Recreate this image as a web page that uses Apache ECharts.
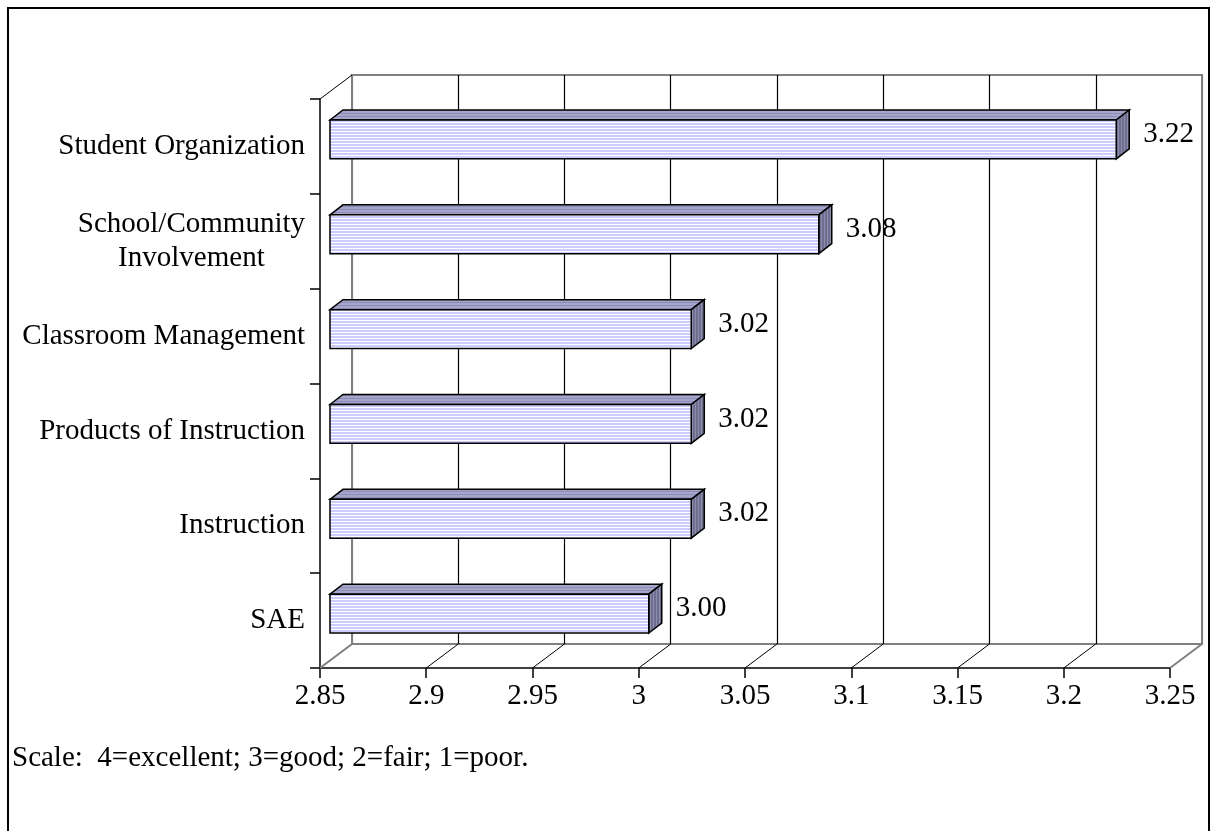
<!DOCTYPE html>
<html>
<head>
<meta charset="utf-8">
<script src="https://cdn.jsdelivr.net/npm/echarts@6/dist/echarts.min.js"></script>
<style>
html, body { margin: 0; padding: 0; background: #fff; }
#main { width: 1211px; height: 831px; }
</style>
</head>
<body>
<div id="main"></div>
<script>
// data, top to bottom as in the picture
var categories = ['Student Organization', 'School/Community\nInvolvement', 'Classroom Management',
	'Products of Instruction', 'Instruction', 'SAE'];
var scores = [3.22, 3.08, 3.02, 3.02, 3.02, 3.00];
var xTicks = [2.85, 2.9, 2.95, 3, 3.05, 3.1, 3.15, 3.2, 3.25];
var note = 'Scale:  4=excellent; 3=good; 2=fair; 1=poor.';

var FONT = 'Liberation Serif';
var FS = 29;
var xMin = xTicks[0];
var xMax = xTicks[xTicks.length - 1];
var xStep = 0.05;

// 3d look
var wallDx = 32, wallDy = -24;
var barShiftX = 10, barShiftY = -7;
var barDx = 13, barDy = -10;

function stripes(w, h, colA, colB, vertical) {
	var c = document.createElement('canvas');
	c.width = w; c.height = h;
	var ctx = c.getContext('2d');
	ctx.fillStyle = colA;
	ctx.fillRect(0, 0, w, h);
	ctx.fillStyle = colB;
	if (vertical) ctx.fillRect(w - 1, 0, 1, h);
	else ctx.fillRect(0, h - 1, w, 1);
	return { image: c, repeat: 'repeat' };
}
var frontFill = stripes(4, 3, '#ccccff', '#ffffff', false);
var topFill = stripes(4, 3, '#a6a6cc', '#8c8cb4', false);
var sideFill = stripes(3, 4, '#6e6e90', '#8e8eac', true);

function renderBar(params, api) {
	var idx = api.value(0);
	var v = api.value(1);
	var start = api.coord([xMin, idx]);
	var end = api.coord([v, idx]);
	var band = api.size([0, 1])[1];
	var h = band * 0.41;
	var x0 = start[0] + barShiftX, x1 = end[0] + barShiftX;
	var yc = start[1] + barShiftY;
	var y0 = yc - h / 2, y1 = yc + h / 2;
	var line = { stroke: '#000', lineWidth: 1.5 };
	return {
		type: 'group',
		children: [
			{ type: 'polygon', shape: { points: [[x0, y0], [x0 + barDx, y0 + barDy], [x1 + barDx, y0 + barDy], [x1, y0]] },
				style: Object.assign({ fill: topFill }, line) },
			{ type: 'polygon', shape: { points: [[x1, y0], [x1 + barDx, y0 + barDy], [x1 + barDx, y1 + barDy], [x1, y1]] },
				style: Object.assign({ fill: sideFill }, line) },
			{ type: 'rect', shape: { x: x0, y: y0, width: x1 - x0, height: y1 - y0 },
				style: Object.assign({ fill: frontFill }, line) },
			{ type: 'text', style: { x: x1 + barDx + 14, y: yc - 5, text: v.toFixed(2),
				font: FS + 'px "' + FONT + '"', fill: '#000', verticalAlign: 'middle', align: 'left' } }
		]
	};
}

function renderFloor(params, api) {
	var v = api.value(0);
	var cs = params.coordSys;
	var p = api.coord([v, 0]);
	var yb = cs.y + cs.height;
	var edge = (params.dataIndex === 0 || params.dataIndex === xTicks.length - 1);
	var children = [{
		type: 'line',
		shape: { x1: p[0], y1: yb, x2: p[0] + wallDx, y2: yb + wallDy },
		style: { stroke: edge ? '#808080' : '#000', lineWidth: edge ? 2 : 1 }
	}];
	if (params.dataIndex === 0) {
		children.push({
			type: 'line',
			shape: { x1: p[0], y1: cs.y, x2: p[0] + wallDx, y2: cs.y + wallDy },
			style: { stroke: '#000', lineWidth: 1 }
		});
	}
	return { type: 'group', children: children };
}

var splitColors = xTicks.map(function(t, i) {
	return (i === 0 || i === xTicks.length - 1) ? '#808080' : '#000';
});

var chart = echarts.init(document.getElementById('main'));
var option = {
	animation: false,
	backgroundColor: '#fff',
	title: {
		text: note, left: 12, top: 744, padding: 0,
		textStyle: { fontFamily: FONT, fontSize: FS, fontWeight: 'normal', color: '#000' }
	},
	graphic: [{
		type: 'rect', shape: { x: 8, y: 8, width: 1201, height: 900 },
		style: { fill: 'none', stroke: '#000', lineWidth: 2 }, z: 100
	}],
	grid: [
		{ left: 320, top: 99, width: 850, height: 569 },
		{ left: 352, top: 75, width: 850, height: 569, show: true, borderColor: '#808080', borderWidth: 2 }
	],
	xAxis: [
		{
			gridIndex: 0, type: 'value', min: xMin, max: xMax, interval: xStep,
			axisLine: { show: true, lineStyle: { color: '#000', width: 1.5 } },
			axisTick: { show: true, length: 10, lineStyle: { color: '#000', width: 1.5 } },
			splitLine: { show: false },
			axisLabel: { margin: 14, fontFamily: FONT, fontSize: FS, color: '#000',
				formatter: function(v) { return String(+v.toFixed(2)); } }
		},
		{
			gridIndex: 1, type: 'value', min: xMin, max: xMax, interval: xStep,
			axisLine: { show: false }, axisTick: { show: false }, axisLabel: { show: false },
			splitLine: { show: true, lineStyle: { color: splitColors, width: 1.2 } }
		}
	],
	yAxis: [
		{
			gridIndex: 0, type: 'category', data: categories, inverse: true,
			axisLine: { show: true, lineStyle: { color: '#000', width: 1.5 } },
			axisTick: { show: true, length: 10, lineStyle: { color: '#000', width: 1.5 } },
			axisLabel: {
				margin: 15, align: 'right', fontFamily: FONT, fontSize: FS, color: '#000', lineHeight: 34,
				formatter: function(v) {
					return v.split('\n').map(function(s) { return '{c|' + s + '}'; }).join('\n');
				},
				rich: { c: { align: 'center', fontFamily: FONT, fontSize: FS, lineHeight: 34, color: '#000' } }
			}
		},
		{
			gridIndex: 1, type: 'category', data: categories, inverse: true, show: false
		}
	],
	series: [
		{
			type: 'custom', xAxisIndex: 0, yAxisIndex: 0, clip: false, z: 3,
			renderItem: renderFloor,
			encode: { x: 0 },
			data: xTicks.map(function(t) { return [t]; })
		},
		{
			type: 'custom', xAxisIndex: 0, yAxisIndex: 0, clip: false, z: 5,
			renderItem: renderBar,
			encode: { y: 0, x: 1 },
			data: scores.map(function(s, i) { return [i, s]; })
		}
	]
};
chart.setOption(option);
</script>
</body>
</html>
